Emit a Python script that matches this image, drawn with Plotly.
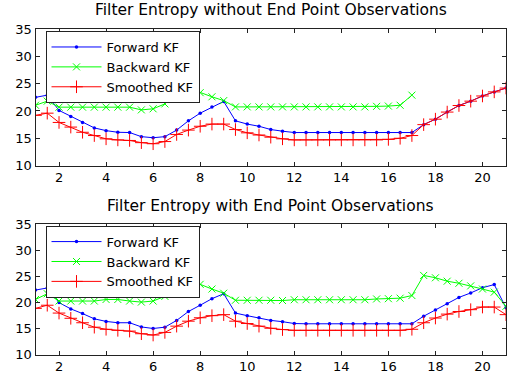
import plotly.graph_objects as go

x_vals = [1, 1.5, 2, 2.5, 3, 3.5, 4, 4.5, 5, 5.5, 6, 6.5, 7, 7.5, 8, 8.5, 9, 9.5, 10, 10.5,
          11, 11.5, 12, 12.5, 13, 13.5, 14, 14.5, 15, 15.5, 16, 16.5, 17, 17.5, 18, 18.5,
          19, 19.5, 20, 20.5, 21]

# Top panel: without end point observations
top_forward = [22.5, 22.9, 20.1, 19.0, 17.9, 16.9, 16.4, 16.1, 16.05, 15.3, 15.1, 15.3, 16.5,
               18.2, 19.6, 20.75, 21.75, 18.2, 17.6, 17.2, 16.6, 16.3, 16.05, 16.05, 16.05,
               16.05, 16.05, 16.05, 16.05, 16.05, 16.05, 16.05, 16.05, 17.5, 18.5, 19.8,
               21.0, 21.8, 22.75, 23.5, 24.2]
top_backward = [21.05, 21.8, 20.7, 20.7, 20.7, 20.7, 20.7, 20.7, 20.7, 20.2, 20.4, 21.3, 24.9,
                24.2, 23.35, 22.6, 21.9, 20.75, 20.75, 20.75, 20.75, 20.75, 20.75, 20.75,
                20.75, 20.75, 20.75, 20.75, 20.75, 20.85, 20.9, 21.05, 22.9]
top_smoothed = [19.2, 19.6, 17.9, 17.05, 16.1, 15.5, 14.9, 14.7, 14.6, 14.2, 14.0, 14.4, 15.7,
                16.5, 17.2, 17.6, 17.6, 16.6, 16.0, 15.6, 15.2, 14.9, 14.7, 14.7, 14.7, 14.7,
                14.7, 14.7, 14.7, 14.7, 14.8, 15.0, 15.5, 17.5, 18.5, 19.8, 21.0, 21.8, 22.75,
                23.5, 24.2]

# Bottom panel: with end point observations
bot_forward = [22.4, 22.8, 20.0, 18.8, 17.9, 16.9, 16.4, 16.15, 16.15, 15.35, 15.05, 15.3, 16.6,
               18.3, 19.5, 20.75, 21.7, 18.0, 17.5, 17.1, 16.6, 16.35, 16.0, 15.95, 15.95,
               15.95, 15.95, 15.95, 15.95, 15.95, 15.95, 15.95, 15.95, 17.4, 18.6, 19.8,
               21.0, 21.85, 22.85, 23.45, 19.0]
bot_backward = [20.6, 21.7, 20.3, 20.3, 20.3, 20.3, 20.6, 20.6, 20.3, 20.1, 20.3, 21.2, 24.9,
                24.2, 23.5, 22.6, 21.8, 20.45, 20.45, 20.45, 20.45, 20.4, 20.55, 20.55, 20.55,
                20.55, 20.55, 20.55, 20.55, 20.7, 20.75, 20.85, 21.35, 25.2, 24.75, 24.1,
                23.7, 23.2, 22.6, 22.0, 19.3]
bot_smoothed = [18.9, 19.5, 18.0, 17.0, 16.15, 15.3, 14.9, 14.7, 14.55, 14.05, 13.8, 14.3, 15.5,
                16.45, 17.1, 17.5, 17.7, 16.45, 16.0, 15.5, 15.1, 14.85, 14.7, 14.7, 14.7,
                14.7, 14.7, 14.7, 14.7, 14.7, 14.7, 14.7, 14.9, 16.15, 17.05, 17.8, 18.3,
                18.65, 19.15, 19.15, 17.7]

titles = ["Filter Entropy without End Point Observations",
          "Filter Entropy with End Point Observations"]
names = ["Forward KF", "Backward KF", "Smoothed KF"]
x_ticks = [2, 4, 6, 8, 10, 12, 14, 16, 18, 20]
y_ticks = [10, 15, 20, 25, 30, 35]

FONT = "DejaVu Sans, Verdana, sans-serif"
fig = go.Figure()

def add_panel(fwd, bwd, smo, xa, ya, leg):
    fig.add_trace(go.Scatter(x=x_vals[:len(fwd)], y=fwd, name=names[0], mode="lines+markers",
                             line=dict(color="#0000FF", width=1),
                             marker=dict(symbol="circle", size=3.5, color="#0000FF"),
                             xaxis=xa, yaxis=ya, legend=leg))
    fig.add_trace(go.Scatter(x=x_vals[:len(bwd)], y=bwd, name=names[1], mode="lines+markers",
                             line=dict(color="#00FF00", width=1),
                             marker=dict(symbol="x-thin", size=7,
                                         line=dict(color="#00FF00", width=1)),
                             xaxis=xa, yaxis=ya, legend=leg))
    fig.add_trace(go.Scatter(x=x_vals[:len(smo)], y=smo, name=names[2], mode="lines+markers",
                             line=dict(color="#FF0000", width=1),
                             marker=dict(symbol="cross-thin", size=9,
                                         line=dict(color="#FF0000", width=1)),
                             xaxis=xa, yaxis=ya, legend=leg))

add_panel(top_forward, top_backward, top_smoothed, "x", "y", "legend")
add_panel(bot_forward, bot_backward, bot_smoothed, "x2", "y2", "legend2")

W, H = 508, 385
xdom = [35.5 / W, 506 / W]
ydom_top = [1 - 165 / H, 1 - 23 / H]
ydom_bot = [1 - 362 / H, 1 - 226 / H]

axis_common = dict(showgrid=False, zeroline=False, showline=True, linecolor="#222",
                   linewidth=1, mirror="ticks", ticks="inside", ticklen=4,
                   tickcolor="#222", tickfont=dict(family=FONT, size=13, color="black"))

legend_common = dict(xanchor="left", yanchor="top", bgcolor="white", bordercolor="#222",
                     borderwidth=1, font=dict(family=FONT, size=13, color="black"),
                     tracegroupgap=0, itemwidth=50)

fig.update_layout(
    width=W, height=H, margin=dict(l=0, r=0, t=0, b=0),
    paper_bgcolor="white", plot_bgcolor="white",
    font=dict(family=FONT, size=13, color="black"),
    xaxis=dict(domain=xdom, range=[1, 21], tickvals=x_ticks, anchor="y", **axis_common),
    yaxis=dict(domain=ydom_top, range=[10, 35], tickvals=y_ticks, anchor="x", **axis_common),
    xaxis2=dict(domain=xdom, range=[1, 21], tickvals=x_ticks, anchor="y2", **axis_common),
    yaxis2=dict(domain=ydom_bot, range=[10, 35], tickvals=y_ticks, anchor="x2", **axis_common),
    legend=dict(x=45.5 / W, y=1 - 25 / H, **legend_common),
    legend2=dict(x=45.5 / W, y=1 - 227.5 / H, **legend_common),
    showlegend=True,
    annotations=[
        dict(text=titles[0], x=(xdom[0] + xdom[1]) / 2, y=1 - 3 / H, xref="paper", yref="paper",
             xanchor="center", yanchor="middle", showarrow=False,
             font=dict(family=FONT, size=15.5, color="black")),
        dict(text=titles[1], x=(xdom[0] + xdom[1]) / 2, y=1 - 207 / H, xref="paper",
             yref="paper", xanchor="center", yanchor="middle", showarrow=False,
             font=dict(family=FONT, size=15.5, color="black")),
    ],
)

fig.write_html("out.html", config={"displayModeBar": False},
               post_script="document.body.style.margin='0px';")
